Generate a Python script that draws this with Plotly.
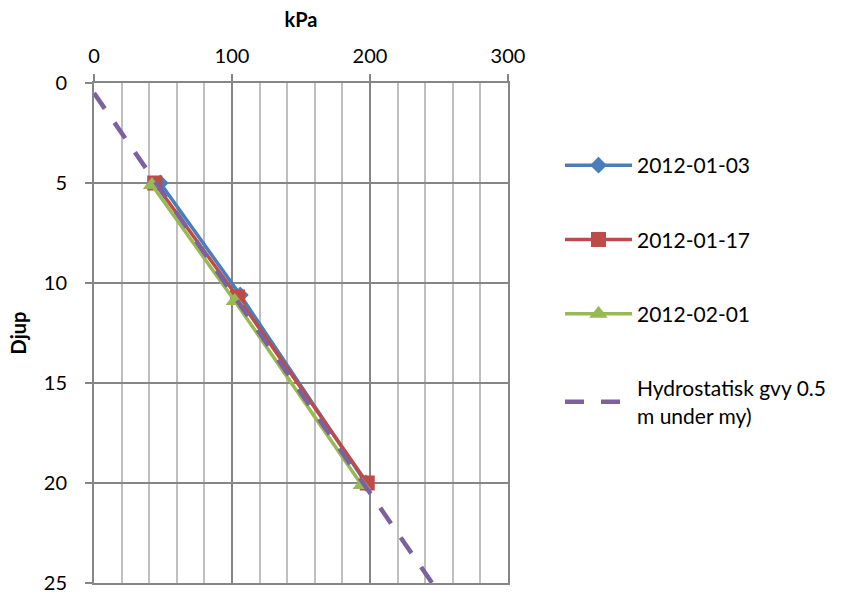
import plotly.graph_objects as go

depth_0103 = [5.0, 10.6, 20.0]
kpa_0103 = [48, 106, 197]
depth_0117 = [5.0, 10.7, 20.0]
kpa_0117 = [44, 104, 198]
depth_0201 = [5.1, 10.9, 20.1]
kpa_0201 = [42, 102, 194]
depth_hydro = [0.5, 25.0]
kpa_hydro = [0, 245]
x_ticks = [0, 100, 200, 300]
y_ticks = [0, 5, 10, 15, 20, 25]

FONT = "Lato"
TOP, BOTTOM = 83, 13
PLOT_H = 596 - TOP - BOTTOM

fig = go.Figure()
fig.add_trace(go.Scatter(x=kpa_0103, y=depth_0103, name="2012-01-03", mode="lines+markers",
                         legendgroup="a",
                         line=dict(color="#4A7EBB", width=3.5),
                         marker=dict(symbol="diamond", size=13, color="#4A7EBB")))
fig.add_trace(go.Scatter(x=kpa_0117, y=depth_0117, name="2012-01-17", mode="lines+markers",
                         legendgroup="b",
                         line=dict(color="#BE4B48", width=3.5),
                         marker=dict(symbol="square", size=15, color="#BE4B48")))
fig.add_trace(go.Scatter(x=kpa_0201, y=depth_0201, name="2012-02-01", mode="lines+markers",
                         legendgroup="c",
                         line=dict(color="#98B954", width=3.5),
                         marker=dict(symbol="triangle-up", size=16, color="#98B954")))
fig.add_trace(go.Scatter(x=kpa_hydro, y=depth_hydro, name="Hydrostatisk gvy 0.5<br>m under my)", mode="lines",
                         legendgroup="d",
                         line=dict(color="#7D60A0", width=4.5, dash="19px,17px")))

fig.update_layout(
    width=845, height=596,
    margin=dict(l=94, r=337, t=TOP, b=BOTTOM, autoexpand=False),
    paper_bgcolor="white", plot_bgcolor="white",
    font=dict(family=FONT, size=20, color="black"),
    legend=dict(x=(560 - 94) / 414, y=(596 - BOTTOM - 145) / PLOT_H, xanchor="left", yanchor="top",
                font=dict(size=21), tracegroupgap=44, itemwidth=67),
    xaxis=dict(side="top", range=[0, 300], tickmode="array", tickvals=x_ticks,
               showgrid=True, gridcolor="#868686", gridwidth=1.5,
               minor=dict(dtick=20, showgrid=True, gridcolor="#BFBFBF", gridwidth=2),
               showline=True, linecolor="#868686", linewidth=2, mirror=True,
               ticks="outside", ticklen=7, tickcolor="#868686", tickwidth=1.5,
               ticklabelstandoff=3, automargin=False, ticklabeloverflow="allow",
               zeroline=False,
               title=dict(text="<b>kPa</b>", font=dict(size=20), standoff=10)),
    yaxis=dict(autorange=False, range=[25.0001, -0.0001], tickmode="array", tickvals=y_ticks,
               showgrid=True, gridcolor="#868686", gridwidth=1.5,
               showline=True, linecolor="#868686", linewidth=2, mirror=True,
               ticks="outside", ticklen=7, tickcolor="#868686", tickwidth=1.5,
               ticklabelstandoff=14, automargin=False, ticklabeloverflow="allow",
               zeroline=False,
               title=dict(text="<b>Djup</b>", font=dict(size=20), standoff=12)),
)
fig.write_html("out.html")
